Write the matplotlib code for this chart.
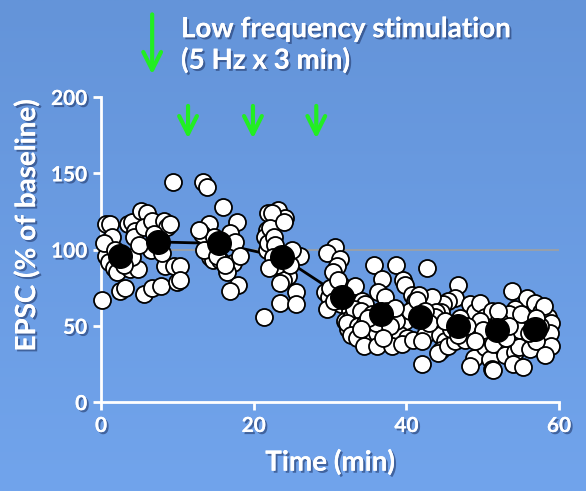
import numpy as np
import matplotlib
matplotlib.use("Agg")
import matplotlib.pyplot as plt
import matplotlib.patheffects as pe

# Individual EPSC measurements (time in min, % of baseline), grouped by phase
pts_baseline = [
    (0.1, 67), (0.6, 117), (1.2, 117), (1.4, 108), (0.6, 96), (1.0, 92), (1.7, 88),
    (2.1, 85), (2.5, 73), (3.2, 75), (3.8, 87), (4.9, 87), (3.5, 117), (4.1, 118),
    (4.5, 112), (4.3, 108), (5.2, 125), (6.0, 124), (5.6, 115), (6.7, 119), (8.2, 119),
    (8.6, 115), (9.1, 117), (6.5, 100), (4.1, 95), (5.6, 71), (6.7, 75), (7.8, 76),
    (8.4, 89), (9.5, 89), (10.0, 79), (9.4, 144), (0.4, 104), (1.8, 100),
    (3.0, 90), (5.0, 103), (7.0, 110), (8.0, 98),
]
pts_lfs = [
    (13.4, 144), (13.9, 141), (16.0, 128), (14.1, 117), (17.8, 118), (13.2, 110),
    (16.9, 111), (14.3, 95), (14.7, 93), (15.6, 93), (17.3, 91), (16.5, 85), (18.0, 77),
    (16.9, 73), (10.3, 89), (10.3, 80), (21.3, 56), (13.5, 100), (14.8, 108), (12.8, 113),
    (17.5, 105), (15.2, 96), (16.2, 90), (18.2, 96),
    (21.9, 124), (21.7, 113), (21.5, 108), (21.7, 100), (21.9, 104), (23.2, 126),
    (24.1, 121), (22.4, 124), (22.1, 114), (22.6, 108), (22.8, 103), (26.1, 96),
    (24.5, 83), (23.9, 80), (23.5, 78), (25.6, 72), (23.5, 65), (25.6, 64),
    (22.5, 95), (23.0, 90), (24.8, 90), (22.0, 88), (24.0, 118), (25.0, 100),
]
pts_early = [
    (30.7, 102), (29.6, 98), (31.3, 94), (30.9, 89), (30.4, 85), (29.3, 72), (29.8, 69),
    (29.6, 61), (31.5, 77), (32.2, 70), (31.5, 64), (32.6, 60), (32.0, 53), (32.4, 48),
    (30.0, 75), (31.0, 80), (32.8, 55), (30.5, 66),
    (35.7, 90), (38.7, 90), (36.8, 81), (39.6, 80), (39.8, 77), (33.3, 76), (36.3, 72),
    (37.2, 69), (40.7, 70), (41.1, 66), (34.2, 66), (34.6, 64), (33.1, 61), (34.0, 60),
    (39.0, 57), (39.8, 53), (32.2, 52), (33.7, 50), (34.6, 52), (35.2, 46), (36.1, 45),
    (32.8, 44), (33.5, 42), (38.3, 47), (39.2, 44), (40.1, 42), (34.4, 37), (36.1, 37),
    (38.1, 37), (39.4, 38), (40.9, 41), (38.7, 53), (35.5, 58), (37.5, 60), (36.0, 52),
    (37.8, 50), (40.5, 60), (38.5, 62), (35.0, 55), (37.0, 42), (34.0, 48),
]
pts_late = [
    (42.7, 88), (46.8, 77), (46.4, 68), (45.5, 66), (44.8, 64), (44.6, 59), (43.3, 69),
    (43.9, 59), (43.8, 56), (48.3, 64), (49.0, 59), (49.7, 65), (50.3, 56), (51.2, 60),
    (41.6, 70), (41.4, 67), (44.2, 48), (42.4, 44), (42.0, 40), (44.4, 44), (45.1, 40),
    (44.6, 34), (44.2, 32), (45.5, 37), (46.4, 40), (47.7, 45), (48.8, 44), (47.7, 41),
    (48.8, 29), (48.3, 24), (42.0, 25), (50.3, 36), (51.0, 28), (51.2, 22), (51.2, 41),
    (49.7, 53), (45.9, 48), (46.8, 44), (42.5, 60), (43.0, 52), (47.0, 55), (48.0, 50),
    (45.0, 53), (50.0, 47), (41.8, 55), (49.0, 40),
    (53.8, 73), (55.8, 68), (56.9, 65), (54.2, 61), (53.4, 58), (57.7, 59), (58.6, 56),
    (59.0, 52), (55.3, 53), (54.9, 47), (58.8, 45), (59.0, 37), (51.4, 38), (52.9, 31),
    (54.2, 33), (54.7, 36), (56.2, 35), (57.0, 40), (58.2, 31), (54.0, 25), (55.3, 23),
    (51.4, 21), (52.1, 54), (52.7, 47), (53.0, 42), (56.0, 45), (57.5, 50), (55.0, 58),
    (52.0, 60), (58.0, 63), (53.5, 50), (57.0, 55),
]

# 5-min binned averages
mean_t = [2.5, 7.5, 15.5, 23.7, 31.6, 36.7, 41.8, 46.8, 51.9, 56.9]
mean_v = [96, 105, 104, 95, 69, 58, 56, 50, 47, 48]

# Stimulation markers (min)
stim_first = 6.7
stim_times = [11.4, 19.9, 28.2]

x_ticks = [0, 20, 40, 60]
y_ticks = [0, 50, 100, 150, 200]

FONT = ["Lato", "DejaVu Sans"]
shadow = [pe.withSimplePatchShadow(offset=(1.5, -1.5), shadow_rgbFace="#1c3060", alpha=0.55),
          pe.Normal()]

fig = plt.figure(figsize=(5.86, 4.91), dpi=100)

# blue gradient background
bg = fig.add_axes([0, 0, 1, 1], zorder=-10)
grad = np.linspace(0, 1, 256).reshape(-1, 1)
top = np.array([100, 148, 217]) / 255
bottom = np.array([113, 164, 236]) / 255
img = top + (bottom - top) * grad[:, :, None]
bg.imshow(img, aspect="auto", extent=[0, 1, 0, 1])
bg.axis("off")

ax = fig.add_axes([0.1724, 0.181, 0.7816, 0.6214])
ax.patch.set_alpha(0)

all_pts = np.array(pts_baseline + pts_lfs + pts_early + pts_late)
ax.axhline(100, color="#a0a0a0", lw=1.2, zorder=1)
ax.plot(mean_t, mean_v, color="black", lw=2, zorder=2)
ax.scatter(all_pts[:, 0], all_pts[:, 1], s=150, facecolor="white", edgecolor="black",
           linewidth=1.3, zorder=3, clip_on=False)
ax.plot(mean_t, mean_v, "o", color="black", markersize=17, zorder=4)

ax.set_xlim(0, 60)
ax.set_ylim(0, 200)
ax.set_xticks(x_ticks)
ax.set_yticks(y_ticks)
for s in ["top", "right"]:
    ax.spines[s].set_visible(False)
for s in ["left", "bottom"]:
    ax.spines[s].set_color("white")
    ax.spines[s].set_linewidth(2)
ax.tick_params(colors="white", width=2, length=6, direction="out", pad=4)
for lab in ax.get_xticklabels() + ax.get_yticklabels():
    lab.set_fontfamily(FONT)
    lab.set_fontweight("bold")
    lab.set_fontsize(15)
    lab.set_color("white")
    lab.set_path_effects(shadow)

ax.set_xlabel("Time (min)", fontsize=20, fontweight="bold", color="white",
              family=FONT, labelpad=9, path_effects=shadow)
ax.set_ylabel("EPSC (% of baseline)", fontsize=20, fontweight="bold", color="white",
              family=FONT, path_effects=shadow)
ax.yaxis.set_label_coords(-0.133, 0.58)

# green arrows
arrow_kw = dict(arrowstyle="->", color="#22ee22", lw=3, mutation_scale=32)
ax.annotate("", xy=(stim_first, 213), xytext=(stim_first, 256),
            arrowprops=arrow_kw, annotation_clip=False)
for t in stim_times:
    ax.annotate("", xy=(t, 171), xytext=(t, 196), arrowprops=arrow_kw,
                annotation_clip=False)

fig.text(181 / 586, 1 - 45 / 491, "Low frequency stimulation\n(5 Hz x 3 min)",
         fontsize=20, fontweight="bold", color="white", family=FONT,
         ha="left", va="center", linespacing=1.2, path_effects=shadow)

fig.savefig("out.png", dpi=100)
